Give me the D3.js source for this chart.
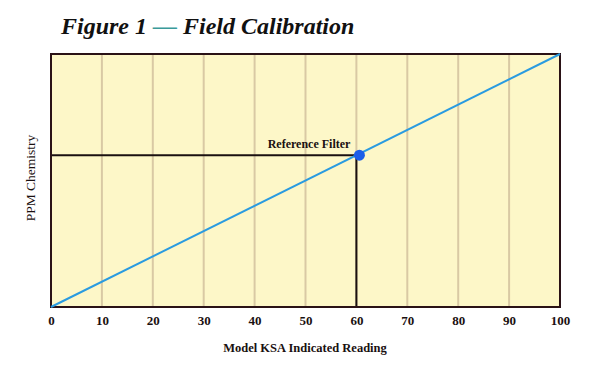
<!DOCTYPE html>
<html>
<head>
<meta charset="utf-8">
<style>
  body { margin: 0; background: #fff; }
  svg { display: block; }
</style>
</head>
<body>
<script src="https://cdn.jsdelivr.net/npm/d3@7"></script>
<script>
// chart values
var xTicks = [0, 10, 20, 30, 40, 50, 60, 70, 80, 90, 100];
var lineX = [0, 100];
var lineY = [0, 100];
var refX = [60];
var refY = [60];
var refLabel = ["Reference Filter"];

var W = 600, H = 370;
var m = {left: 51, right: 40, top: 54, bottom: 63};
var serif = "'Liberation Serif', 'DejaVu Serif', serif";

var svg = d3.select("body").append("svg")
  .attr("width", W).attr("height", H);

var x = d3.scaleLinear().domain([0, 100]).range([m.left, W - m.right]);
var y = d3.scaleLinear().domain([0, 100]).range([H - m.bottom, m.top]);

// plot background
svg.append("rect")
  .attr("x", x(0)).attr("y", y(100))
  .attr("width", x(100) - x(0)).attr("height", y(0) - y(100))
  .style("fill", "#fdf7c8");

// vertical grid
svg.append("g").selectAll("line").data(xTicks.slice(1, -1))
  .enter().append("line")
    .attr("x1", function(d){ return x(d); })
    .attr("x2", function(d){ return x(d); })
    .attr("y1", y(100)).attr("y2", y(0))
    .style("stroke", "#d9c9a4").style("stroke-width", 2);

// reference guide lines
svg.append("line")
  .attr("x1", x(0)).attr("x2", x(refX[0]))
  .attr("y1", y(refY[0])).attr("y2", y(refY[0]))
  .style("stroke", "#1a1010").style("stroke-width", 2);
svg.append("line")
  .attr("x1", x(refX[0])).attr("x2", x(refX[0]))
  .attr("y1", y(refY[0])).attr("y2", y(0))
  .style("stroke", "#1a1010").style("stroke-width", 2);

// frame
svg.append("rect")
  .attr("x", x(0)).attr("y", y(100))
  .attr("width", x(100) - x(0)).attr("height", y(0) - y(100))
  .style("fill", "none").style("stroke", "#2a1216").style("stroke-width", 2);

// calibration line
var pts = lineX.map(function(d, i){ return [d, lineY[i]]; });
svg.append("path")
  .datum(pts)
  .attr("d", d3.line().x(function(d){ return x(d[0]); }).y(function(d){ return y(d[1]); }))
  .style("fill", "none").style("stroke", "#2a9be0").style("stroke-width", 2);

// reference point
svg.append("circle")
  .attr("cx", x(refX[0]) + 3).attr("cy", y(refY[0]))
  .attr("r", 5.5)
  .style("fill", "#1c5ee8");

svg.append("text")
  .attr("x", x(refX[0]) - 6).attr("y", y(refY[0]) - 7)
  .attr("text-anchor", "end")
  .style("font-family", serif).style("font-size", "12px").style("font-weight", "bold")
  .style("fill", "#1a1010")
  .text(refLabel[0]);

// x axis labels
var xAxis = d3.axisBottom(x).tickValues(xTicks).tickSize(0).tickPadding(9);
var gx = svg.append("g")
  .attr("transform", "translate(0," + y(0) + ")")
  .call(xAxis);
gx.select(".domain").remove();
gx.selectAll("text")
  .style("font-family", serif).style("font-size", "13px").style("font-weight", "bold")
  .style("fill", "#1a1010");

// axis titles
svg.append("text")
  .attr("x", 305).attr("y", 352)
  .attr("text-anchor", "middle")
  .style("font-family", serif).style("font-size", "12.5px").style("font-weight", "bold")
  .style("fill", "#1a1010")
  .text("Model KSA Indicated Reading");

svg.append("text")
  .attr("transform", "translate(35," + 178 + ") rotate(-90)")
  .attr("text-anchor", "middle")
  .style("font-family", serif).style("font-size", "13.5px")
  .style("fill", "#1a1010")
  .text("PPM Chemistry");

// title
var title = svg.append("text")
  .attr("x", 61).attr("y", 34)
  .style("font-family", serif).style("font-size", "24px")
  .style("font-weight", "bold").style("font-style", "italic")
  .style("fill", "#111");
title.append("tspan").text("Figure 1 ");
title.append("tspan").style("fill", "#3a9a9a").text("\u2014");
title.append("tspan").text(" Field Calibration");
</script>
</body>
</html>
